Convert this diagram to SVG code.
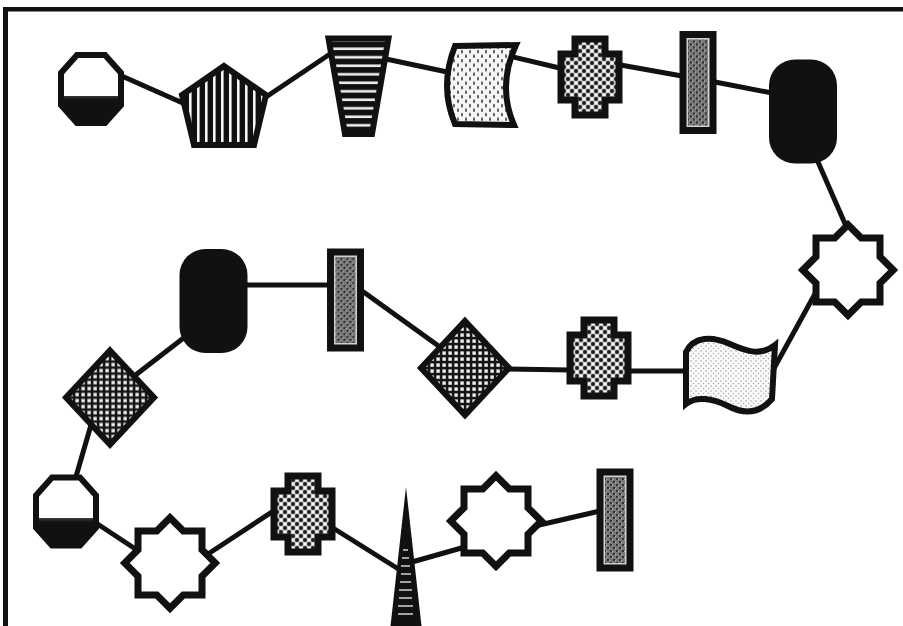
<svg xmlns="http://www.w3.org/2000/svg" width="903" height="626" viewBox="0 0 903 626">
  <style>
    .edge { stroke: #111; stroke-width: 5; fill: none; }
    .ink { stroke: #111; stroke-width: 6; stroke-linejoin: miter; }
    .heavy { stroke-width: 7; }
  </style>
  <defs>
    <!-- fills -->
    <linearGradient id="halfDark" x1="0" y1="0" x2="0" y2="1">
      <stop offset="0.6" stop-color="#fff"/>
      <stop offset="0.6" stop-color="#3a3a3a"/>
      <stop offset="0.66" stop-color="#111"/>
      <stop offset="1" stop-color="#111"/>
    </linearGradient>
    <pattern id="vstripe" width="8" height="8" patternUnits="userSpaceOnUse">
      <rect width="8" height="8" fill="#111"/>
      <rect x="5" width="2.6" height="8" fill="#f4f4f4"/>
    </pattern>
    <pattern id="hstripe" width="8" height="8.5" patternUnits="userSpaceOnUse">
      <rect width="8" height="8.5" fill="#111"/>
      <rect y="5" width="8" height="2.6" fill="#efefef"/>
    </pattern>
    <pattern id="speck" width="8" height="9" patternUnits="userSpaceOnUse">
      <rect width="8" height="9" fill="#f6f6f6"/>
      <ellipse cx="2" cy="2.2" rx="1" ry="1.9" fill="#555"/>
      <ellipse cx="6" cy="6.7" rx="1" ry="1.9" fill="#555"/>
    </pattern>
    <pattern id="pebble" width="8" height="8" patternUnits="userSpaceOnUse">
      <rect width="8" height="8" fill="#c4c4c4"/>
      <circle cx="6" cy="2" r="1.6" fill="#f4f4f4"/>
      <circle cx="2" cy="6" r="1.6" fill="#f4f4f4"/>
      <circle cx="2" cy="2" r="2" fill="#1e1e1e"/>
      <circle cx="6" cy="6" r="2" fill="#1e1e1e"/>
    </pattern>
    <pattern id="grain" width="6" height="6" patternUnits="userSpaceOnUse">
      <rect width="6" height="6" fill="#7a7a7a"/>
      <rect x="1" y="0" width="2" height="2" fill="#333"/>
      <rect x="4" y="3" width="2" height="2" fill="#2a2a2a"/>
      <rect x="0" y="4" width="1" height="1" fill="#c8c8c8"/>
      <rect x="3" y="1" width="1" height="1" fill="#bdbdbd"/>
    </pattern>
    <pattern id="mesh" width="6" height="6" patternUnits="userSpaceOnUse">
      <rect width="6" height="6" fill="#161616"/>
      <rect x="1.4" y="1.4" width="3.4" height="3.4" fill="#efefef"/>
    </pattern>
    <pattern id="fineDots" width="5" height="5" patternUnits="userSpaceOnUse">
      <rect width="5" height="5" fill="#fafafa"/>
      <circle cx="1" cy="1" r="0.7" fill="#8a8a8a"/>
      <circle cx="3.5" cy="3.5" r="0.7" fill="#a5a5a5"/>
    </pattern>

    <!-- repeated shapes, centred on the origin -->
    <path id="octagon" class="ink" fill="url(#halfDark)"
          d="M-14,-34 L14,-34 L30,-16 L30,16 L14,34 L-14,34 L-30,16 L-30,-16 Z"/>
    <path id="star" class="ink heavy" fill="#fff"
          d="M0,-45.25 L13.25,-32 L32,-32 L32,-13.25 L45.25,0 L32,13.25 L32,32 L13.25,32 L0,45.25 L-13.25,32 L-32,32 L-32,13.25 L-45.25,0 L-32,-13.25 L-32,-32 L-13.25,-32 Z"/>
    <path id="cross" class="ink heavy" fill="url(#pebble)"
          d="M-15,-38 H15 V-23 H29 V23 H15 V38 H-15 V23 H-29 V-23 H-15 Z"/>
    <g id="bar">
      <rect x="-15" y="-48" width="30" height="96" class="ink heavy" fill="#d0d0d0"/>
      <rect x="-10" y="-43" width="20" height="86" fill="url(#grain)"/>
    </g>
    <rect id="pill" x="-34" y="-52" width="68" height="104" rx="26" ry="26" fill="#111"/>
    <path id="diamond" class="ink" fill="url(#mesh)" d="M0,-47 L44,0 L0,47 L-44,0 Z"/>
  </defs>

  <rect width="903" height="626" fill="#fff"/>

  <!-- frame -->
  <rect x="3" y="7" width="900" height="4.5" fill="#111"/>
  <rect x="3" y="7" width="5" height="619" fill="#111"/>

  <g id="connectors">
    <line class="edge" x1="115" y1="73" x2="185" y2="104"/>
    <line class="edge" x1="266" y1="97" x2="333" y2="52"/>
    <line class="edge" x1="386" y1="59" x2="452" y2="73"/>
    <line class="edge" x1="505" y1="55" x2="568" y2="70"/>
    <line class="edge" x1="615" y1="64" x2="682" y2="76"/>
    <line class="edge" x1="715" y1="82" x2="772" y2="93"/>
    <line class="edge" x1="815" y1="155" x2="846" y2="226"/>
    <line class="edge" x1="816" y1="292" x2="772" y2="372"/>
    <line class="edge" x1="690" y1="371" x2="628" y2="371"/>
    <line class="edge" x1="570" y1="370" x2="505" y2="369"/>
    <line class="edge" x1="440" y1="347" x2="358" y2="288"/>
    <line class="edge" x1="333" y1="285" x2="240" y2="285"/>
    <line class="edge" x1="190" y1="333" x2="133" y2="377"/>
    <line class="edge" x1="91" y1="425" x2="75" y2="480"/>
    <line class="edge" x1="93" y1="521" x2="140" y2="552"/>
    <line class="edge" x1="205" y1="556" x2="275" y2="510"/>
    <line class="edge" x1="333" y1="528" x2="400" y2="570"/>
    <line class="edge" x1="412" y1="562" x2="465" y2="547"/>
    <line class="edge" x1="535" y1="526" x2="600" y2="511"/>
  </g>

  <!-- top row -->
  <g id="octagon-top"><use href="#octagon" x="91" y="89"/></g>
  <g id="pentagon">
    <path class="ink" stroke-width="7" fill="url(#vstripe)" d="M224,66 L266,95 L254,145 L194,145 L182,95 Z"/>
  </g>
  <g id="trapezoid">
    <path class="ink" stroke-width="7" fill="url(#hstripe)" d="M328.5,38.5 L388.5,38.5 L372,134 L345,134 Z"/>
  </g>
  <g id="scroll">
    <path class="ink" fill="url(#speck)" d="M455,46 L516,45 Q497,86 514,125 L455,124 Q439,86 455,46 Z"/>
  </g>
  <g id="cross-top"><use href="#cross" x="590" y="77"/></g>
  <g id="bar-top"><use href="#bar" x="698" y="82.5"/></g>
  <g id="pill-top"><use href="#pill" x="803" y="111.5"/></g>
  <g id="star-right"><use href="#star" x="848" y="270"/></g>

  <!-- middle row -->
  <g id="flag">
    <path class="ink" stroke-width="7" stroke-linejoin="round" fill="url(#fineDots)"
          d="M686,352 C694,336 712,336 730,344 C748,352 761,356 775,345 L772,399 C760,413 745,415 728,406 C712,398 696,396 686,404 Z"/>
  </g>
  <g id="cross-mid"><use href="#cross" x="599" y="358"/></g>
  <g id="diamond-mid"><use href="#diamond" x="465" y="368"/></g>
  <g id="bar-mid"><use href="#bar" x="345.5" y="300"/></g>
  <g id="pill-mid"><use href="#pill" x="213.5" y="301"/></g>
  <g id="diamond-left"><use href="#diamond" x="110" y="397.5"/></g>

  <!-- bottom row -->
  <g id="octagon-bottom"><use href="#octagon" x="66" y="511.5"/></g>
  <g id="star-bottom-left"><use href="#star" x="170" y="563"/></g>
  <g id="cross-bottom"><use href="#cross" x="303" y="514"/></g>
  <g id="spike">
    <path fill="#111" d="M406,487 L421.5,626 L390.5,626 Z"/>
    <g stroke="#f2f2f2" stroke-width="1.3">
      <line x1="403" y1="550" x2="408" y2="550"/>
      <line x1="402" y1="558" x2="409" y2="558"/>
      <line x1="401" y1="566" x2="410" y2="566"/>
      <line x1="401" y1="574" x2="411" y2="574"/>
      <line x1="400" y1="582" x2="411" y2="582"/>
      <line x1="399" y1="590" x2="412" y2="590"/>
      <line x1="399" y1="598" x2="412" y2="598"/>
      <line x1="398" y1="606" x2="413" y2="606"/>
      <line x1="398" y1="614" x2="413" y2="614"/>
    </g>
  </g>
  <g id="star-bottom-mid"><use href="#star" x="496" y="521"/></g>
  <g id="bar-bottom"><use href="#bar" x="615" y="520"/></g>
</svg>
